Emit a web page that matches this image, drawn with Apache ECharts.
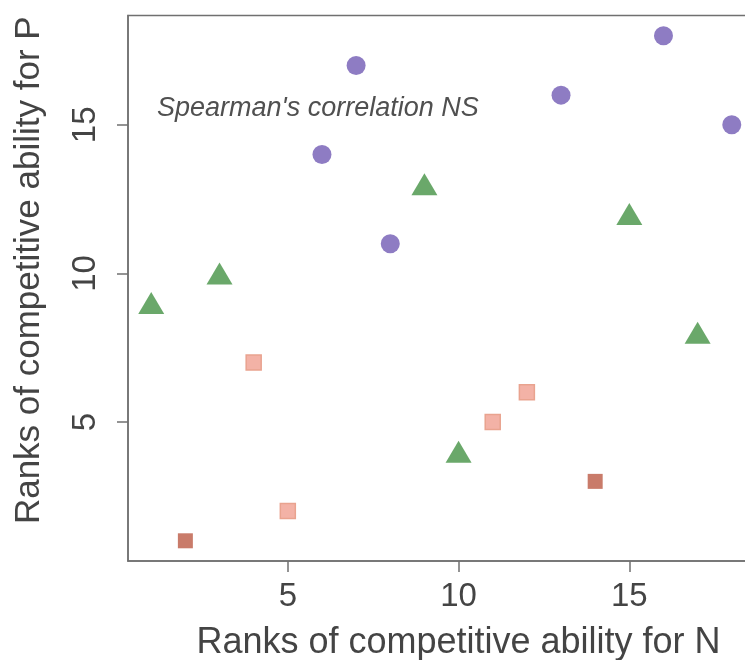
<!DOCTYPE html>
<html>
<head>
<meta charset="utf-8">
<script src="https://cdn.jsdelivr.net/npm/echarts@6/dist/echarts.min.js"></script>
<style>html,body{margin:0;padding:0;background:#fff;}#c{width:745px;height:660px;}</style>
</head>
<body>
<div id="c"></div>
<script>
var xTicks = [5, 10, 15];
var yTicks = [5, 10, 15];
var circlesX = [6, 7, 8, 13, 16, 18];
var circlesY = [14, 17, 11, 16, 18, 15];
var trianglesX = [1, 3, 9, 10, 15, 17];
var trianglesY = [9, 10, 13, 4, 12, 8];
var lightSqX = [4, 5, 11, 12];
var lightSqY = [7, 2, 5, 6];
var darkSqX = [2, 14];
var darkSqY = [1, 3];
var xTitle = 'Ranks of competitive ability for N';
var yTitle = 'Ranks of competitive ability for P';
var note = "Spearman's correlation NS";

function pairs(xs, ys) { return xs.map(function (x, i) { return [x, ys[i]]; }); }

var axisColor = '#707070';
var textColor = '#444';
var font = 'Liberation Sans, Arial, sans-serif';

var chart = echarts.init(document.getElementById('c'));
chart.setOption({
  animation: false,
  backgroundColor: '#fff',
  grid: { left: 128, top: 15.5, width: 627, bottom: 99, show: true, borderColor: axisColor, borderWidth: 1.5, containLabel: false, outerBoundsMode: 'none' },
  xAxis: {
    type: 'value', min: 0.32, max: 18.68,
    name: xTitle, nameLocation: 'middle', nameGap: 64,
    nameTextStyle: { fontSize: 36, color: textColor, fontFamily: font, padding: [0, 0, 0, 34] },
    axisLine: { show: true, onZero: false, lineStyle: { color: axisColor, width: 1.5 } },
    axisTick: { show: true, length: 11, customValues: xTicks, lineStyle: { color: axisColor, width: 1.5 } },
    axisLabel: { customValues: xTicks, fontSize: 33, color: textColor, fontFamily: font, margin: 19 },
    splitLine: { show: false }
  },
  yAxis: {
    type: 'value', min: 0.32, max: 18.68,
    name: yTitle, nameLocation: 'middle', nameGap: 81,
    nameTextStyle: { fontSize: 35, color: textColor, fontFamily: font, padding: [0, 0, 0, 36] },
    axisLine: { show: true, onZero: false, lineStyle: { color: axisColor, width: 1.5 } },
    axisTick: { show: true, length: 11, customValues: yTicks, lineStyle: { color: axisColor, width: 1.5 } },
    axisLabel: { customValues: yTicks, fontSize: 33, color: textColor, fontFamily: font, rotate: 90, margin: 26 },
    splitLine: { show: false }
  },
  graphic: [{
    type: 'text', left: 157, top: 95,
    style: { text: note, fontSize: 27, fontStyle: 'italic', fill: '#505050', fontFamily: font }
  }],
  series: [
    { type: 'scatter', data: pairs(circlesX, circlesY), symbol: 'circle', symbolSize: 19, itemStyle: { color: '#8e7cc3', opacity: 1 } },
    { type: 'scatter', data: pairs(trianglesX, trianglesY), symbol: 'triangle', symbolSize: [26, 22], itemStyle: { color: '#6aa86a', opacity: 1 } },
    { type: 'scatter', data: pairs(lightSqX, lightSqY), symbol: 'rect', symbolSize: 15, itemStyle: { color: '#f3b2a6', borderColor: '#e9a38f', borderWidth: 1.5, opacity: 1 } },
    { type: 'scatter', data: pairs(darkSqX, darkSqY), symbol: 'rect', symbolSize: 15, itemStyle: { color: '#c97b6a', opacity: 1 } }
  ]
});
</script>
</body>
</html>
